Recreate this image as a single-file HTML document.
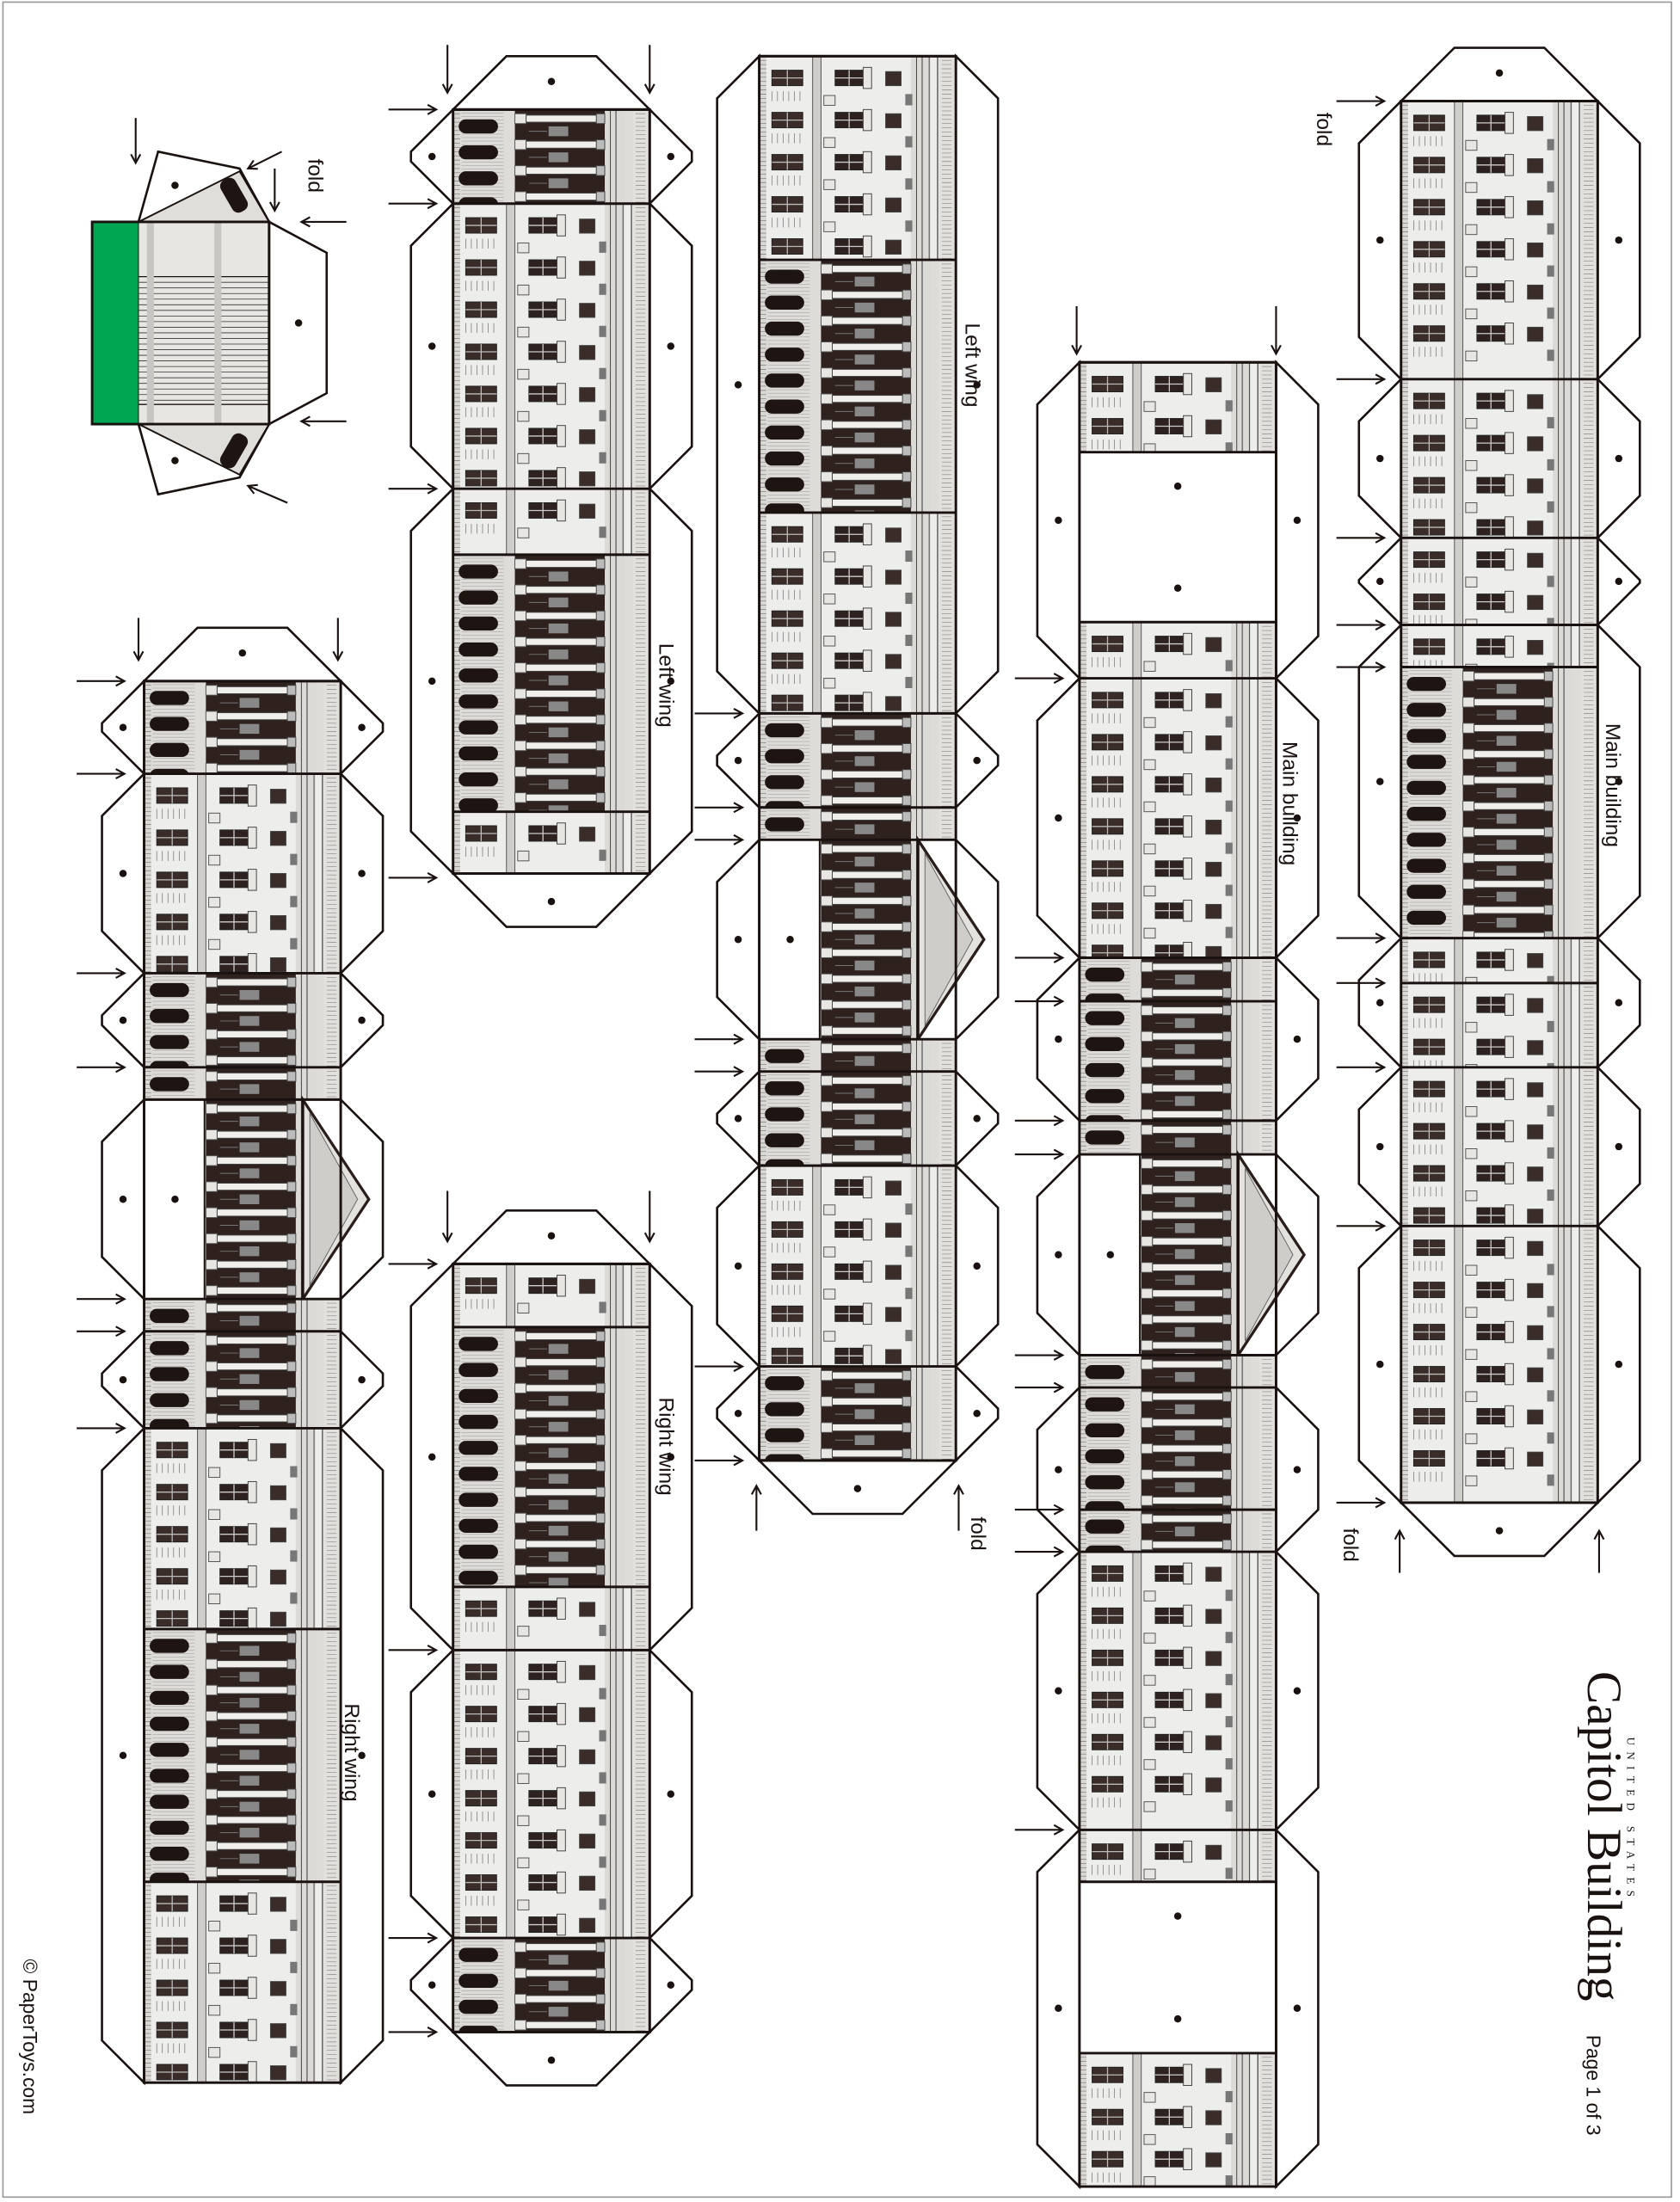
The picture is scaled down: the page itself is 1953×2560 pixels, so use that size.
<!DOCTYPE html>
<html><head><meta charset="utf-8">
<style>html,body{margin:0;padding:0;background:#fff}svg{display:block}</style>
</head><body>
<svg id="s" xmlns="http://www.w3.org/2000/svg" width="1953" height="2560" viewBox="0 0 1195 1568">
<rect x="0" y="0" width="1195" height="1568" fill="#fff"/>
<rect x="1.5" y="1.5" width="1188" height="1563" fill="none" stroke="#999" stroke-width="1"/>
<g id="g"></g>
<g font-family="Liberation Sans, sans-serif" fill="#1a1210">
<text transform="translate(469,458) rotate(90)" font-size="15">Left wing</text>
<text transform="translate(469,995) rotate(90)" font-size="15">Right wing</text>
<text transform="translate(687,230) rotate(90)" font-size="15">Left wing</text>
<text transform="translate(245,1213) rotate(90)" font-size="15">Right wing</text>
<text transform="translate(913,528) rotate(90)" font-size="15">Main building</text>
<text transform="translate(1143,515) rotate(90)" font-size="15">Main building</text>
<text transform="translate(937,80) rotate(90)" font-size="15">fold</text>
<text transform="translate(219,113) rotate(90)" font-size="15">fold</text>
<text transform="translate(691,1080) rotate(90)" font-size="15">fold</text>
<text transform="translate(956,1088) rotate(90)" font-size="15">fold</text>
<text transform="translate(1129,1449) rotate(90)" font-size="14">Page 1 of 3</text>
<text transform="translate(16,1395) rotate(90)" font-size="14">© PaperToys.com</text>
<text transform="translate(1158,1237) rotate(90)" font-size="8" font-family="Liberation Serif, serif" letter-spacing="4.5">UNITED STATES</text>
<text transform="translate(1130,1190) rotate(90)" font-size="35" font-family="Liberation Serif, serif" textLength="235" lengthAdjust="spacingAndGlyphs">Capitol Building</text>
</g>
</svg>
<script>
var G=document.getElementById('g'),out=[],cid=0;
function el(t,a){var s='<'+t;for(var k in a)s+=' '+k+'="'+a[k]+'"';return s+'/>';}
function R(x,y,w,h,f,st){out.push(el('rect',{x:x,y:y,width:w,height:h,fill:f,stroke:st||'none','stroke-width':0.6}));}
function P(pts,f,st,sw){out.push(el('polygon',{points:pts,fill:f||'#fff',stroke:st||'#1a1210','stroke-width':sw||1.6,'stroke-linejoin':'miter'}));}
function C(x,y){out.push(el('circle',{cx:x,cy:y,r:2.6,fill:'#1a1210'}));}
function L(x1,y1,x2,y2,w,c){out.push(el('line',{x1:x1,y1:y1,x2:x2,y2:y2,stroke:c||'#1a1210','stroke-width':w||1.4}));}
function arrow(x1,y1,x2,y2){L(x1,y1,x2,y2,1.3);var a=Math.atan2(y2-y1,x2-x1),h=7;
 out.push(el('polyline',{points:(x2-h*Math.cos(a-0.5))+','+(y2-h*Math.sin(a-0.5))+' '+x2+','+y2+' '+(x2-h*Math.cos(a+0.5))+','+(y2-h*Math.sin(a+0.5)),fill:'none',stroke:'#1a1210','stroke-width':1.3}));}
function clipOpen(x,y,w,h){cid++;out.push('<clipPath id="c'+cid+'">'+el('rect',{x:x,y:y,width:w,height:h})+'</clipPath><g clip-path="url(#c'+cid+')">');}
function clipClose(){out.push('</g>');}
var W=140;
function light(x,y0,y1){
 R(x,y0,W,y1-y0,'#ededeb');
 R(x,y0,5,y1-y0,'#d9d7d3');for(var y=y0;y<y1;y+=3)L(x,y,x+5,y,0.4,'#777');
 R(x+38,y0,6,y1-y0,'#cfcdca');L(x+38,y0,x+38,y1,0.6,'#555');L(x+44,y0,x+44,y1,0.6,'#555');
 R(x+108,y0,14,y1-y0,'#dcdad6');L(x+112,y0,x+112,y1,0.6,'#444');L(x+116,y0,x+116,y1,1,'#777');L(x+121,y0,x+121,y1,0.6,'#444');
 R(x+128,y0,12,y1-y0,'#e2e0dc');for(var y=y0;y<y1;y+=3)L(x+130,y,x+137,y,0.4,'#888');
 L(x+127,y0,x+127,y1,0.7,'#333');
 for(var y=y0+10;y<y1-8;y+=30){
  R(x+9,y,22,11,'#3a2c28','#222');L(x+9,y+5.5,x+31,y+5.5,0.8,'#bbb');L(x+20,y,x+20,y+11,0.8,'#bbb');
  for(var k=0;k<6;k++)L(x+9+k*4,y+15,x+9+k*4,y+22,0.4,'#666');
  R(x+54,y,20,11,'#2e2220','#222');L(x+54,y+5.5,x+74,y+5.5,0.8,'#ccc');L(x+64,y,x+64,y+11,0.8,'#ccc');
  R(x+74,y-2,6,15,'#e8e6e2','#444');
  R(x+90,y+1,11,10,'#3a2c28','#444');
  R(x+46,y+18,8,7,'#e8e6e2','#555');R(x+104,y+17,5,8,'#777');
 }
}
function dark(x,y0,y1,left){
 R(x,y0,W,y1-y0,'#dedcd8');
 R(x,y0,5,y1-y0,'#d9d7d3');for(var y=y0;y<y1;y+=3)L(x,y,x+5,y,0.4,'#777');
 for(var y=y0;y<y1;y+=2.5)L(x+6,y,x+36,y,0.3,'#999');
 R(x+44,y0,66,y1-y0,'#2e211e');
 R(x+108,y0,14,y1-y0,'#dcdad6');L(x+112,y0,x+112,y1,0.6,'#444');L(x+116,y0,x+116,y1,1,'#777');
 R(x+128,y0,12,y1-y0,'#e2e0dc');for(var y=y0;y<y1;y+=3)L(x+130,y,x+137,y,0.4,'#888');
 for(var y=y0+3;y<y1-4;y+=18.5){
  if(left!==false)out.push(el('rect',{x:x+4,y:y+4,width:28,height:10,rx:5,fill:'#1e1412'}));
  R(x+44,y,8,7,'#e8e6e2','#555');R(x+52,y+1,52,5,'#f0efec','#444');R(x+102,y,6,7,'#bbb','#444');
  R(x+68,y+9,14,7,'#888');L(x+54,y+12.5,x+67,y+12.5,0.6,'#777');
 }
}
function portico(x,y0,y1){
 dark(x,y0,y1,false);R(x,y0,43,y1-y0,'#fff');R(x+113,y0,27,y1-y0,'#fff');
}
function porticoPed(x,y0,y1){
 var m=(y0+y1)/2;
 P((x+113)+','+y0+' '+(x+160)+','+m+' '+(x+113)+','+y1,'#e4e2de','#2a1e1c',2);
 P((x+118)+','+(y0+10)+' '+(x+152)+','+m+' '+(x+118)+','+(y1-10),'#cfcdca','#666',0.6);
 L(x+113,y0,x+113,y1,1.5);L(x+43,y0,x+43,y1,1.2);
 C(x+22,m);
}
function blank(x,y0,y1){R(x,y0,W,y1-y0,'#fff');}
function strip(x,segs,flaps,top,bot){
 var y0=segs[0][0],y1=segs[segs.length-1][1];
 flaps.forEach(function(f){var a=f[0],b=f[1],c=Math.min(30,(b-a)/2);
  P(x+','+a+' '+(x-30)+','+(a+c)+' '+(x-30)+','+(b-c)+' '+x+','+b);C(x-15,(a+b)/2);
  if(!f[2]){P((x+W)+','+a+' '+(x+W+30)+','+(a+c)+' '+(x+W+30)+','+(b-c)+' '+(x+W)+','+b);C(x+W+15,(a+b)/2);}
 });
 if(top){P(x+','+y0+' '+(x+38)+','+(y0-38)+' '+(x+102)+','+(y0-38)+' '+(x+W)+','+y0);C(x+70,y0-20);}
 if(bot){P(x+','+y1+' '+(x+38)+','+(y1+38)+' '+(x+102)+','+(y1+38)+' '+(x+W)+','+y1);C(x+70,y1+20);}
 segs.forEach(function(s){var t=s[2];
  clipOpen(x,s[0],W,s[1]-s[0]);
  if(t=='l')light(x,s[0],s[1]);else if(t=='d')dark(x,s[0],s[1]);else if(t=='b')blank(x,s[0],s[1]);else if(t=='p')portico(x,s[0],s[1]);
  clipClose();
  if(t=='p')porticoPed(x,s[0],s[1]);
  if(t=='b'){C(x+70,s[0]+(s[1]-s[0])*0.2);C(x+70,s[0]+(s[1]-s[0])*0.8);}
  L(x,s[0],x+W,s[0],1.8);
 });
 out.push(el('rect',{x:x,y:y0,width:W,height:y1-y0,fill:'none',stroke:'#1a1210','stroke-width':1.8}));
}
strip(102,[[485,551,'d'],[551,693,'l'],[693,760,'d'],[760,783,'d'],[783,925,'p'],[925,948,'d'],[948,1017,'d'],[1017,1160,'l'],[1160,1340,'d'],[1340,1483,'l']],
 [[485,551],[551,693],[693,760],[783,925,0,1],[948,1017],[1017,1483]],true,false);
strip(322,[[78,145,'d'],[145,348,'l'],[348,395,'l'],[395,578,'d'],[578,622,'l']],[[78,145],[145,348],[348,622]],true,true);
strip(322,[[900,945,'l'],[945,1130,'d'],[1130,1175,'l'],[1175,1380,'l'],[1380,1447,'d']],[[900,1175],[1175,1380],[1380,1447]],true,true);
strip(540,[[40,185,'l'],[185,365,'d'],[365,508,'l'],[508,575,'d'],[575,598,'d'],[598,740,'p'],[740,763,'d'],[763,830,'d'],[830,973,'l'],[973,1040,'d']],
 [[40,508],[508,575],[598,740,0,1],[763,830],[830,973],[973,1040]],false,true);
strip(768,[[258,322,'l'],[322,443,'b'],[443,483,'l'],[483,682,'l'],[682,713,'d'],[713,798,'d'],[798,822,'d'],[822,965,'p'],[965,988,'d'],[988,1075,'d'],[1075,1105,'d'],[1105,1303,'l'],[1303,1340,'l'],[1340,1462,'b'],[1462,1557,'l']],
 [[258,483],[483,682],[682,798],[822,965,0,1],[988,1105],[1105,1303],[1303,1557]],false,false);
strip(997,[[72,270,'l'],[270,383,'l'],[383,445,'l'],[445,475,'l'],[475,668,'d'],[668,700,'l'],[700,760,'l'],[760,873,'l'],[873,1070,'l']],
 [[72,270],[270,383],[383,445],[445,668],[668,760],[760,873],[873,1070]],true,true);
// small piece
P('98,158 112,108 170,120 191,158','#fff');P('98,302 112,352 170,340 191,302','#fff');
P('191,158 232,180 232,280 191,302','#fff');C(212,230);C(124,132);C(124,328);
P('98,158 170,122 191,158','#e0dedb','#1a1210',1.2);P('98,302 170,338 191,302','#e0dedb','#1a1210',1.2);
out.push(el('rect',{x:160,y:126,width:12,height:26,rx:5,fill:'#1e1412',transform:'rotate(-30 166 139)'}));
out.push(el('rect',{x:160,y:308,width:12,height:26,rx:5,fill:'#1e1412',transform:'rotate(30 166 321)'}));
R(65,158,33,144,'#00a651','#1a1210');
R(98,158,93,144,'#e8e6e3','#1a1210');
for(var y=197;y<288;y+=4)L(98,y,191,y,0.5,'#333');L(98,197,191,197,0.8);L(98,288,191,288,0.8);
R(104,158,5,144,'#c8c6c2');R(152,158,5,144,'#c8c6c2');
out.push(el('rect',{x:65,y:158,width:126,height:144,fill:'none',stroke:'#1a1210','stroke-width':1.8}));
// arrows
arrow(96,84,96,116);arrow(200,108,176,120);arrow(195,120,195,150);arrow(246,158,214,158);arrow(246,300,214,300);arrow(204,358,176,346);
[485,551,693,760,925,948,1017].forEach(function(y){arrow(54,y,88,y);});
arrow(98,440,98,470);arrow(240,440,240,470);
[78,145,348].forEach(function(y){arrow(276,y,310,y);});arrow(276,625,310,625);
arrow(318,32,318,66);arrow(462,32,462,66);arrow(318,848,318,884);arrow(462,848,462,884);
[900,1175,1380,1447].forEach(function(y){arrow(276,y,310,y);});
[508,575,598,740,763,973,1040].forEach(function(y){arrow(494,y,528,y);});
arrow(538,1090,538,1058);arrow(682,1090,682,1058);
arrow(766,218,766,252);arrow(908,218,908,252);
[483,682,713,798,822,965,988,1075,1105,1303].forEach(function(y){arrow(722,y,756,y);});
[72,270,383,445,475,668,700,760,873,1070].forEach(function(y){arrow(951,y,985,y);});
arrow(996,1120,996,1090);arrow(1138,1120,1138,1090);
G.innerHTML=out.join('');
</script>
</body></html>
